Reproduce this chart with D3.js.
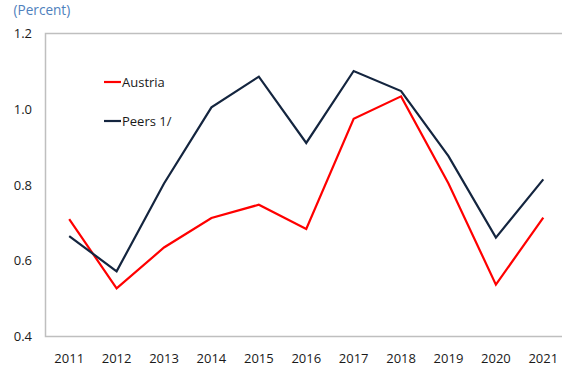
<!DOCTYPE html>
<html>
<head>
<meta charset="utf-8">
<script src="https://cdn.jsdelivr.net/npm/d3@7"></script>
<style>
  html, body { margin: 0; padding: 0; background: #fff; }
  svg { display: block; font-family: "Open Sans", "Noto Sans", sans-serif; }
</style>
</head>
<body>
<svg id="chart" width="562" height="369"></svg>
<script>
// Annual series, in percent
const years = ["2011","2012","2013","2014","2015","2016","2017","2018","2019","2020","2021"];
const austria = [0.710, 0.527, 0.635, 0.713, 0.748, 0.684, 0.975, 1.034, 0.804, 0.537, 0.714];
const peers   = [0.665, 0.572, 0.804, 1.005, 1.086, 0.911, 1.101, 1.048, 0.876, 0.661, 0.815];
const yTicks  = [0.4, 0.6, 0.8, 1.0, 1.2];
const seriesNames = ["Austria", "Peers 1/"];
const seriesColors = ["#ff0000", "#14253f"];

const svg = d3.select("#chart");
const plot = { left: 45.5, right: 567, top: 33.5, bottom: 336.5 };

const x = d3.scaleBand().domain(years).range([plot.left, plot.right]);
const y = d3.scaleLinear().domain([0.4, 1.2]).range([plot.bottom, plot.top]);

// plot frame
svg.append("rect")
  .attr("x", plot.left).attr("y", plot.top)
  .attr("width", plot.right - plot.left).attr("height", plot.bottom - plot.top)
  .attr("fill", "none").attr("stroke", "#bfbfbf").attr("stroke-width", 1.5);

// unit label
svg.append("text")
  .attr("x", 13.5).attr("y", 15)
  .attr("fill", "#4f81bd").attr("font-size", 13.6)
  .text("(Percent)");

// y axis
const yAxis = d3.axisLeft(y).tickValues(yTicks).tickFormat(d3.format(".1f")).tickSize(0).tickPadding(0);
const gy = svg.append("g").attr("transform", "translate(32,0)").call(yAxis);
gy.select(".domain").remove();
gy.selectAll("text").attr("font-size", 13).attr("fill", "#1a1a1a").attr("font-family", "Open Sans, Noto Sans, sans-serif");

// x axis
const xAxis = d3.axisBottom(x).tickSize(0).tickPadding(0);
const gx = svg.append("g").attr("transform", "translate(0,354)").call(xAxis);
gx.select(".domain").remove();
gx.selectAll("text").attr("font-size", 13).attr("fill", "#1a1a1a").attr("font-family", "Open Sans, Noto Sans, sans-serif");

// series lines
const line = d3.line()
  .x((d, i) => x(years[i]) + x.bandwidth() / 2)
  .y(d => y(d));

[austria, peers].forEach((vals, k) => {
  svg.append("path")
    .datum(vals)
    .attr("d", line)
    .attr("fill", "none")
    .attr("stroke", seriesColors[k])
    .attr("stroke-width", 2.2)
    .attr("stroke-linejoin", "miter");
});

// legend
const legend = svg.append("g");
seriesNames.forEach((name, k) => {
  const ly = 82 + k * 39;
  legend.append("line")
    .attr("x1", 104).attr("x2", 121)
    .attr("y1", ly).attr("y2", ly)
    .attr("stroke", seriesColors[k]).attr("stroke-width", 2.2);
  legend.append("text")
    .attr("x", 122).attr("y", ly)
    .attr("dy", "0.35em")
    .attr("font-size", 13).attr("fill", "#1a1a1a")
    .text(name);
});
</script>
</body>
</html>
